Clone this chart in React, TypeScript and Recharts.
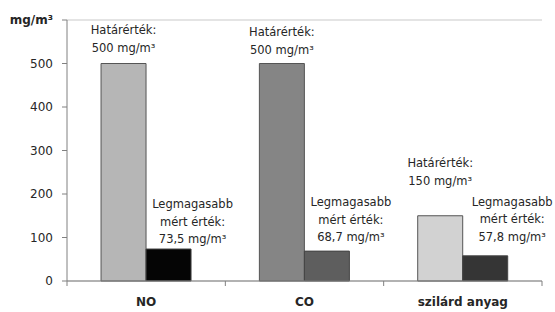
import { Bar, BarChart, CartesianGrid, Cell, LabelList, XAxis, YAxis } from "recharts";

const categories = ["NO", "CO", "szilárd anyag"];
const limitValues = [500, 500, 150];
const maxValues = [73.5, 68.7, 57.8];
const maxLabels = ["73,5 mg/m³", "68,7 mg/m³", "57,8 mg/m³"];
const yTicks = [0, 100, 200, 300, 400, 500, 600];

const limitColors = ["#b6b6b6", "#858585", "#d2d2d2"];
const maxColors = ["#050505", "#5e5e5e", "#353535"];

// label placement tweaks (pixels), per category
const limitLift = [16, 14, 35];
const maxLift = [10, 14, 19];
const maxShift = [24, 24, 27];

const data = categories.map((name, i) => ({
  name,
  limit: limitValues[i],
  max: maxValues[i],
}));

const FONT = "'DejaVu Sans', Verdana, sans-serif";
const TEXT = "#262626";
const LINE_H = 17.5;

function MultiLine({ x, y, lines }: { x: number; y: number; lines: string[] }) {
  // y is the center of the last line
  const first = y - (lines.length - 1) * LINE_H;
  return (
    <text x={x} textAnchor="middle" fontFamily={FONT} fontSize={11.5} fill={TEXT}>
      {lines.map((l, k) => (
        <tspan key={k} x={x} y={first + k * LINE_H} dy="0.35em">
          {l}
        </tspan>
      ))}
    </text>
  );
}

function LimitLabel(props: any) {
  const { x, y, width, index, value } = props;
  return (
    <MultiLine
      x={x + width / 2}
      y={y - limitLift[index]}
      lines={["Határérték:", `${value} mg/m³`]}
    />
  );
}

function MaxLabel(props: any) {
  const { x, y, width, index } = props;
  return (
    <MultiLine
      x={x + width / 2 + maxShift[index]}
      y={y - maxLift[index]}
      lines={["Legmagasabb", "mért érték:", maxLabels[index]]}
    />
  );
}

function YTick(props: any) {
  const { x, y, payload } = props;
  if (payload.value === 600) {
    return (
      <text x={x} y={y} dy="0.35em" textAnchor="end" fontFamily={FONT} fontSize={12} fontWeight="bold" fill={TEXT}>
        mg/m³
      </text>
    );
  }
  return (
    <text x={x} y={y} dy="0.35em" textAnchor="end" fontFamily={FONT} fontSize={12} fill={TEXT}>
      {payload.value}
    </text>
  );
}

function XTick(props: any) {
  const { x, y, payload, index, width } = props;
  const half = width / categories.length / 2;
  return (
    <g>
      {index === 0 && <line x1={x - half} x2={x - half} y1={y} y2={y + 5} stroke="#808080" />}
      <line x1={x + half} x2={x + half} y1={y} y2={y + 5} stroke="#808080" />
      <text x={x} y={y + 25} textAnchor="middle" fontFamily={FONT} fontSize={12} fontWeight="bold" fill={TEXT}>
        {payload.value}
      </text>
    </g>
  );
}

export default function App() {
  return (
    <div style={{ position: "absolute", left: 0, top: 0, background: "#fff" }}>
      <BarChart
        width={555}
        height={312}
        data={data}
        margin={{ top: 20, right: 13, bottom: 0, left: 0 }}
        barCategoryGap="21.5%"
        barGap={0}
      >
        <CartesianGrid vertical={false} stroke="#c9c9c9" />
        <XAxis
          dataKey="name"
          height={31}
          tickLine={false}
          tickSize={0}
          tickMargin={0}
          axisLine={{ stroke: "#808080" }}
          tick={<XTick />}
          interval={0}
        />
        <YAxis
          yAxisId="l"
          width={67}
          domain={[0, 600]}
          ticks={yTicks}
          interval={0}
          tickSize={5}
          tickMargin={9}
          axisLine={{ stroke: "#808080" }}
          tickLine={{ stroke: "#808080" }}
          tick={<YTick />}
        />
        <YAxis
          yAxisId="r"
          orientation="right"
          width={0}
          domain={[0, 600]}
          tick={false}
          tickLine={false}
          axisLine={{ stroke: "#a0a0a0" }}
        />
        <Bar yAxisId="l" dataKey="limit" stroke="#555" strokeWidth={1} isAnimationActive={false}>
          {data.map((_, i) => (
            <Cell key={i} fill={limitColors[i]} />
          ))}
          <LabelList dataKey="limit" content={<LimitLabel />} />
        </Bar>
        <Bar yAxisId="l" dataKey="max" stroke="#444" strokeWidth={1} isAnimationActive={false}>
          {data.map((_, i) => (
            <Cell key={i} fill={maxColors[i]} />
          ))}
          <LabelList dataKey="max" content={<MaxLabel />} />
        </Bar>
      </BarChart>
    </div>
  );
}
